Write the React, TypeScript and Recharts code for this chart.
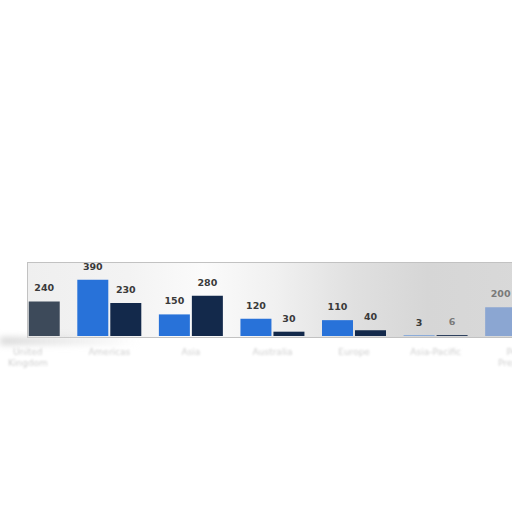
import React from "react";
import { BarChart, Bar, XAxis, YAxis, LabelList, Cell } from "recharts";

const categories = ["United Kingdom", "Americas", "Asia", "Australia", "Europe", "Asia-Pacific", "Peak Pressure"];
const seriesA = [null, 390, 150, 120, 110, 3, 200];
const seriesB = [240, 230, 280, 30, 40, 6, null];
const fadedA = [false, false, false, false, false, true, true];
const fadedB = [false, false, false, false, false, true, false];

const data = categories.map((name, i) => ({ name, a: seriesA[i], b: seriesB[i] }));

const BLUE = "#2872d9";
const NAVY = "#13294b";

const Tick = (props: any) => {
  const { x, y, payload } = props;
  const words = String(payload.value).split(" ");
  return (
    <g transform={`translate(${x},${y})`} style={{ filter: "blur(1px)" }}>
      {words.map((w: string, i: number) => (
        <text key={i} x={0} y={11 + i * 11} textAnchor="middle" fontSize={9} fill="#cfcfcf" fontFamily="DejaVu Sans">
          {w}
        </text>
      ))}
    </g>
  );
};

const makeLabel = (faded: boolean[]) => (props: any) => {
  const { x, y, width, value, index } = props;
  if (value === null || value === undefined) return null;
  return (
    <text
      x={x + width / 2}
      y={y - 10}
      textAnchor="middle"
      fontSize={9.5}
      fontWeight="bold"
      fontFamily="DejaVu Sans"
      fill={faded[index] ? "#7a7a7a" : "#3a3a3a"}
    >
      {value}
    </text>
  );
};

export default function App() {
  return (
    <div style={{ position: "fixed", left: 0, top: 0, width: 512, height: 512, overflow: "hidden", background: "#fff" }}>
      <div
        style={{
          position: "absolute",
          left: 27,
          top: 262,
          width: 500,
          height: 74,
          border: "1px solid #c2c2c2",
          background:
            "linear-gradient(to right, #efefef 0%, #f3f3f3 20%, #fbfbfb 35%, #f0f0f0 50%, #e0e0e0 65%, #d6d6d6 80%, #d9d9d9 100%)",
        }}
      />
      <div
        style={{
          position: "absolute",
          left: 0,
          top: 337,
          width: 140,
          height: 8,
          background: "linear-gradient(to right, #d8d8d8, rgba(230,230,230,0))",
          filter: "blur(3px)",
        }}
      />
      <div style={{ position: "absolute", left: -13, top: 254 }}>
        <BarChart
          width={571}
          height={116}
          data={data}
          margin={{ top: 10, right: 0, bottom: 0, left: 0 }}
          barCategoryGap="10.7%"
          barGap={2}
        >
          <XAxis dataKey="name" axisLine={false} tickLine={false} interval={0} height={34} tick={<Tick />} />
          <YAxis hide domain={[0, 500]} />
          <Bar dataKey="a" fill={BLUE} isAnimationActive={false}>
            {data.map((d, i) => (
              <Cell key={i} fill={i === 6 ? "#8ba6d2" : BLUE} />
            ))}
            <LabelList dataKey="a" content={makeLabel(fadedA)} />
          </Bar>
          <Bar dataKey="b" fill={NAVY} isAnimationActive={false}>
            {data.map((d, i) => (
              <Cell key={i} fill={i === 0 ? "#3d4a5a" : NAVY} />
            ))}
            <LabelList dataKey="b" content={makeLabel(fadedB)} />
          </Bar>
        </BarChart>
      </div>
    </div>
  );
}
